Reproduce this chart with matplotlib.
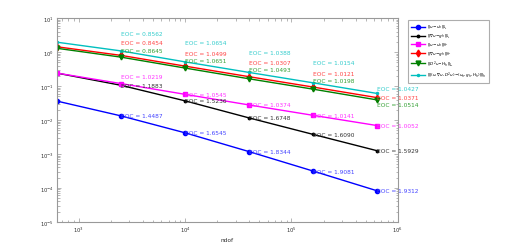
import numpy as np
import matplotlib.pyplot as plt

# degrees of freedom
ndof = [625, 2500, 10000, 40000, 160000, 640000]

# errors
err_l2 = [3.60e-2, 1.32e-2, 4.19e-3, 1.17e-3, 3.13e-4, 8.20e-5]
err_grad_l2 = [2.40e-1, 1.05e-1, 3.66e-2, 1.15e-2, 3.76e-3, 1.24e-3]
err_h1 = [2.40e-1, 1.18e-1, 5.69e-2, 2.77e-2, 1.37e-2, 6.84e-3]
err_grad_h1 = [1.43, 0.798, 0.385, 0.188, 0.0931, 0.0454]
err_hess = [1.29, 0.708, 0.338, 0.163, 0.0807, 0.0389]
err_energy = [1.95, 1.08, 0.514, 0.251, 0.124, 0.0603]

# EOC values printed at points 2..6
eoc_l2 = [1.4487, 1.6545, 1.8344, 1.9081, 1.9312]
eoc_grad_l2 = [1.1883, 1.5236, 1.6748, 1.6090, 1.5929]
eoc_h1 = [1.0219, 1.0545, 1.0374, 1.0141, 1.0052]
eoc_grad_h1 = [0.8454, 1.0499, 1.0307, 1.0121, 1.0371]
eoc_hess = [0.8645, 1.0651, 1.0493, 1.0198, 1.0514]
eoc_energy = [0.8562, 1.0654, 1.0388, 1.0154, 1.0427]

xticks = [1e3, 1e4, 1e5, 1e6]
yticks = [1e-5, 1e-4, 1e-3, 1e-2, 1e-1, 1e0, 1e1]

labels = [r'$\|\, u\!-\!u_h \,\|_{L_2}$',
          r'$\|\, \nabla u\!-\!g_h \,\|_{L_2}$',
          r'$\|\, u\!-\!u_h \,\|_{H^1}$',
          r'$\|\, \nabla u\!-\!g_h \,\|_{H^1}$',
          r'$\|\, D^2u\!-\!H_h \,\|_{L_2}$',
          r'$|\|(u,\nabla u,D^2u)\!-\!(u_h,g_h,H_h)\||_h$']

series = [
    # data, eoc, line colour, text colour, marker, ms, label offsets (px)
    (err_l2, eoc_l2, '#0000ff', '#4444ff', 'o', 3.0, [0, 0, 0, 0, 0]),
    (err_grad_l2, eoc_grad_l2, '#000000', '#333333', '.', 3.5, [0, 0, 0, 0, 0]),
    (err_h1, eoc_h1, '#ff00ff', '#ff33ff', 's', 2.5, [7, 0, 0, 0, 0]),
    (err_grad_h1, eoc_grad_h1, '#ff0000', '#ff4444', 'd', 3.5, [13, 13, 14, 14, 0]),
    (err_hess, eoc_hess, '#008000', '#33a033', 'v', 3.5, [7, 8, 9, 9, -5]),
    (err_energy, eoc_energy, '#00bfbf', '#33cccc', '.', 3.0, [17, 19, 20, 20, 5]),
]

fig = plt.figure(figsize=(5.27, 2.51), dpi=100)
ax = fig.add_axes([0.108, 0.112, 0.647, 0.812])

for (err, eoc, col, tcol, mk, ms, offs), lab in zip(series, labels):
    ax.loglog(ndof, err, color=col, marker=mk, markersize=ms, lw=1.0,
              label=lab)
    for i in range(1, len(ndof)):
        ax.annotate('EOC = %.4f' % eoc[i - 1], (ndof[i], err[i]),
                    xytext=(0, offs[i - 1]), textcoords='offset pixels',
                    ha='left', va='center', fontsize=4.2, color=tcol,
                    zorder=5)

ax.set_xlim(625, 1e6)
ax.set_ylim(1e-5, 1e1)
ax.set_xticks(xticks)
ax.set_yticks(yticks)
ax.set_xlabel('ndof', fontsize=4.2, color='#333333', labelpad=2)

for sp in ax.spines.values():
    sp.set_color('#999999')
    sp.set_linewidth(0.8)
ax.tick_params(which='both', direction='in', top=True, right=True,
               colors='#999999', labelcolor='#333333', labelsize=3.8,
               width=0.5, pad=2)
ax.tick_params(which='major', length=3)
ax.tick_params(which='minor', length=1.8)

leg = ax.legend(loc='upper left', bbox_to_anchor=(1.025, 1.0), fontsize=3.0,
                frameon=True, fancybox=False, borderpad=0.7,
                labelspacing=0.25, handlelength=3.2, handletextpad=0.5)
leg.get_frame().set_edgecolor('#999999')
leg.get_frame().set_linewidth(0.8)
leg.set_zorder(1)

fig.savefig('out.png', dpi=100)
